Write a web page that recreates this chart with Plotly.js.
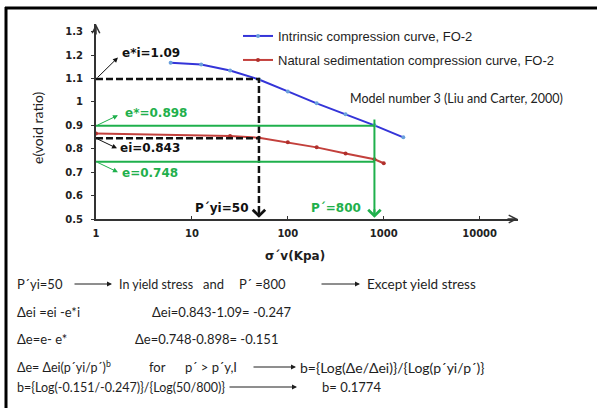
<!DOCTYPE html>
<html>
<head>
<meta charset="utf-8">
<script src="https://cdn.plot.ly/plotly-3.0.1.min.js"></script>
<style>html,body{margin:0;padding:0;background:#fff;}#chart{width:597px;height:408px;}</style>
</head>
<body>
<div id="chart"></div>
<script>
// ---- data ----
const intrinsicP = [6, 12.5, 25, 50, 100, 200, 400, 800, 1600];
const intrinsicE = [1.168, 1.160, 1.134, 1.096, 1.045, 0.994, 0.947, 0.900, 0.849];
const naturalP = [1, 25, 50, 100, 200, 400, 800, 1000];
const naturalE = [0.865, 0.855, 0.847, 0.828, 0.806, 0.780, 0.755, 0.738];
const yieldP = 50;        // P'yi
const stressP = 800;      // P'
const eStarI = 1.098;     // e*i line level
const eiLevel = 0.845;    // ei line level
const eStarLevel = 0.898; // e* line level
const eLevel = 0.745;     // e line level
const xTickVals = [1, 10, 100, 1000, 10000];
const xTickText = ['1', '10', '100', '1000', '10000'];
const legendNames = ['Intrinsic compression curve, FO-2', 'Natural sedimentation compression curve, FO-2'];
const labelTexts = ['e*i=1.09', 'e*=0.898', 'ei=0.843', 'e=0.748', 'P´yi=50', 'P´=800'];

const SANS = 'Liberation Sans, Arial, sans-serif';
const CAL = 'Lato, Liberation Sans, sans-serif';
const BOLD = 'DejaVu Sans, Verdana, sans-serif';
const GREEN = '#1fb04c';
const axisBottom = 0.5, axisTop = 1.333, xMaxLog = 4.4;
const arrowFoot = 0.512;

const traces = [
  {x: intrinsicP, y: intrinsicE, type: 'scatter', mode: 'lines+markers', name: legendNames[0],
   line: {color: '#3434d8', width: 2}, marker: {color: '#6aa0dc', size: 4}, legend: 'legend'},
  {x: naturalP, y: naturalE, type: 'scatter', mode: 'lines+markers', name: legendNames[1],
   line: {color: '#c3403c', width: 2}, marker: {color: '#b0302c', size: 4}, legend: 'legend2'},
  {x: [1, yieldP, yieldP], y: [eStarI, eStarI, arrowFoot], mode: 'lines', showlegend: false,
   line: {color: '#111', width: 2.5, dash: '7px,3px'}},
  {x: [1, yieldP], y: [eiLevel, eiLevel], mode: 'lines', showlegend: false,
   line: {color: '#111', width: 2.5, dash: '7px,3px'}},
  {x: [1, stressP], y: [eStarLevel, eStarLevel], mode: 'lines', showlegend: false,
   line: {color: GREEN, width: 2}},
  {x: [1, stressP], y: [eLevel, eLevel], mode: 'lines', showlegend: false,
   line: {color: GREEN, width: 2}},
  {x: [stressP, stressP], y: [eStarLevel + 0.027, arrowFoot], mode: 'lines', showlegend: false,
   line: {color: GREEN, width: 2}}
];

// pixel -> paper helpers (layout placement only)
const L = 96, T = 24, W = 422, H = 195;
const P = px => (px - L) / W;
const Q = py => (T + H - py) / H;

const ann = [];
function txt(px, py, text, size, extra) {
  ann.push(Object.assign({xref: 'paper', yref: 'paper', x: P(px), y: Q(py), xanchor: 'left', yanchor: 'middle',
    text: text, showarrow: false, font: {family: CAL, size: size, color: '#1e1e1e'}}, extra || {}));
}
function harrow(px1, px2, py) {
  ann.push({xref: 'paper', yref: 'paper', x: P(px2), y: Q(py), ax: px1 - px2, ay: 0, text: '',
    showarrow: true, arrowhead: 2, arrowsize: 1, arrowwidth: 1, arrowcolor: '#1e1e1e', standoff: 0});
}
// callout arrows from y axis to labels (tail on the axis at the line level)
function callout(level, hx, hy, color) {
  ann.push({xref: 'x', yref: 'y', x: hx, y: hy, axref: 'x', ayref: 'y', ax: 0, ay: level, text: '',
    showarrow: true, arrowhead: 2, arrowsize: 1, arrowwidth: 1, arrowcolor: color, standoff: 0});
}
callout(eStarI, 0.229, 1.19, '#111');
callout(eStarLevel, 0.229, 0.943, GREEN);
callout(eiLevel, 0.219, 0.802, '#111');
callout(eLevel, 0.229, 0.70, GREEN);
function lab(xl, y, text, color, anchor) {
  ann.push({xref: 'x', yref: 'y', x: xl, y: y, xanchor: anchor || 'left', yanchor: 'middle', text: text,
    showarrow: false, font: {family: BOLD, size: 12, color: color, weight: 'bold'}});
}
lab(0.25, 1.211, labelTexts[0], '#111');
lab(0.28, 0.951, labelTexts[1], GREEN);
lab(0.23, 0.802, labelTexts[2], '#111');
lab(0.25, 0.696, labelTexts[3], GREEN);
lab(1.604, 0.547, labelTexts[4], '#111', 'right');
lab(2.78, 0.547, labelTexts[5], GREEN, 'right');

// vertical arrowheads
ann.push({xref: 'x', yref: 'y', x: Math.log10(yieldP), y: 0.505, ax: 0, ay: -10, text: '', showarrow: true,
  arrowhead: 4, arrowsize: 1.2, arrowwidth: 2, arrowcolor: '#111', standoff: 0});
ann.push({xref: 'x', yref: 'y', x: Math.log10(stressP), y: 0.505, ax: 0, ay: -10, text: '', showarrow: true,
  arrowhead: 4, arrowsize: 1.2, arrowwidth: 2, arrowcolor: GREEN, standoff: 0});
// axis arrowheads
ann.push({xref: 'x', yref: 'y', x: xMaxLog, y: axisBottom, ax: -12, ay: 0, text: '', showarrow: true,
  arrowhead: 5, arrowsize: 1, arrowwidth: 1.5, arrowcolor: '#333', standoff: 0});
ann.push({xref: 'x', yref: 'y', x: 0, y: axisTop, ax: 0, ay: 12, text: '', showarrow: true,
  arrowhead: 5, arrowsize: 1, arrowwidth: 1.5, arrowcolor: '#333', standoff: 0});

// model note
ann.push({xref: 'paper', yref: 'paper', x: P(348), y: Q(98), xanchor: 'left', yanchor: 'middle',
  text: 'Model number 3 (Liu and Carter, 2000)', showarrow: false, font: {family: CAL, size: 12.5, color: '#222'}});
// axis titles
ann.push({xref: 'paper', yref: 'paper', x: P(295), y: Q(256), xanchor: 'center', yanchor: 'middle',
  text: 'σ´v(Kpa)', showarrow: false, font: {family: BOLD, size: 12, color: '#1e1e1e', weight: 'bold'}});
ann.push({xref: 'paper', yref: 'paper', x: P(37), y: Q(128), xanchor: 'center', yanchor: 'middle', textangle: -90,
  text: 'e(void ratio)', showarrow: false, font: {family: CAL, size: 14, color: '#1e1e1e'}});

// text below chart
txt(15, 284, 'P´yi=50', 13); harrow(73, 112, 284); txt(117, 284, 'In yield stress', 12.5);
txt(201, 284, 'and', 13); txt(237, 284, 'P´ =800', 13); harrow(320, 360, 284); txt(365, 284, 'Except yield stress', 13.5);
txt(15, 312, 'Δei =ei -e*i', 13); txt(150, 312, 'Δei=0.843-1.09= -0.247', 13);
txt(15, 339, 'Δe=e- e*', 13); txt(133, 339, 'Δe=0.748-0.898= -0.151', 13);
txt(15, 366, 'Δe= Δei(p´yi/p´)<sup>b</sup>', 12.5); txt(147, 367, 'for', 13); txt(183, 367, 'p´ > p´y,I', 13);
harrow(252, 296, 367); txt(298, 367, 'b={Log(Δe/Δei)}/{Log(p´yi/p´)}', 14);
txt(15, 387, 'b={Log(-0.151/-0.247)}/{Log(50/800)}', 12.5); harrow(228, 297, 387); txt(320, 387, 'b= 0.1774', 13);

const shapes = [
  {type: 'line', xref: 'paper', yref: 'paper', x0: P(6), x1: P(6), y0: Q(7), y1: Q(412), line: {color: '#000', width: 3}},
  {type: 'line', xref: 'paper', yref: 'paper', x0: P(5), x1: P(600), y0: Q(8), y1: Q(8), line: {color: '#000', width: 3}}
];

const layout = {
  width: 597, height: 408,
  margin: {l: L, r: 597 - L - W, t: T, b: 408 - T - H, pad: 0},
  paper_bgcolor: '#fff', plot_bgcolor: '#fff',
  xaxis: {type: 'log', range: [0, xMaxLog], showgrid: false, zeroline: false, showline: true,
    linecolor: '#333', linewidth: 2, tickvals: xTickVals, ticktext: xTickText, ticks: 'inside', ticklen: 3,
    tickcolor: '#333', ticklabelstandoff: 4,
    tickfont: {family: BOLD, size: 10, color: '#222', weight: 'bold'}},
  yaxis: {range: [axisBottom, axisTop], dtick: 0.1, tick0: 0.5, showgrid: false, zeroline: false, showline: true,
    linecolor: '#333', linewidth: 2, ticks: 'outside', ticklen: 3, tickcolor: '#333', ticklabelstandoff: 6,
    tickfont: {family: BOLD, size: 10, color: '#222', weight: 'bold'}},
  legend: {x: P(238), y: Q(21), xanchor: 'left', yanchor: 'top', bgcolor: 'rgba(0,0,0,0)',
    font: {family: SANS, size: 13, color: '#1e1e1e'}},
  legend2: {x: P(238), y: Q(45), xanchor: 'left', yanchor: 'top', bgcolor: 'rgba(0,0,0,0)',
    font: {family: SANS, size: 13, color: '#1e1e1e'}},
  annotations: ann,
  shapes: shapes
};
Plotly.newPlot('chart', traces, layout, {staticPlot: true, displayModeBar: false});
</script>
</body>
</html>
